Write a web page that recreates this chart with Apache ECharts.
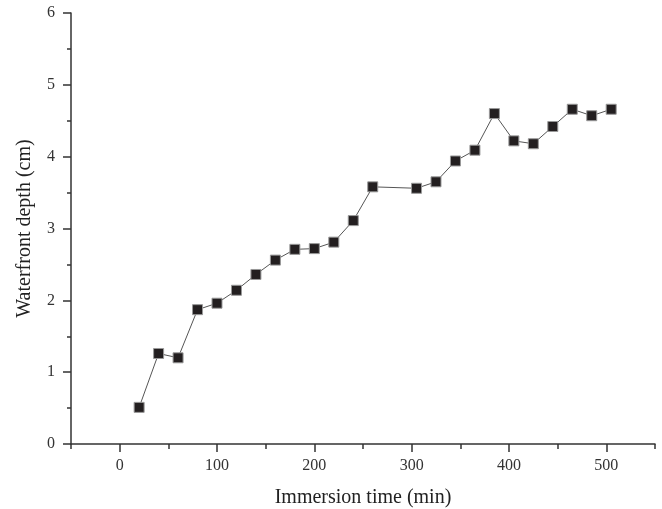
<!DOCTYPE html>
<html>
<head>
<meta charset="utf-8">
<script src="https://cdn.jsdelivr.net/npm/echarts@6/dist/echarts.min.js"></script>
<style>
    html, body { margin: 0; padding: 0; background: #fff; }
    #chart { width: 662px; height: 509px; }
</style>
</head>
<body>
<div id="chart"></div>
<script>
    // immersion time (min) and waterfront depth (cm)
    let times = [20, 40, 60, 80, 100, 120, 140, 160, 180, 200, 220, 240, 260,
        305, 325, 345, 365, 385, 405, 425, 445, 465, 485, 505];
    let depths = [0.51, 1.26, 1.20, 1.87, 1.96, 2.14, 2.36, 2.56, 2.71, 2.72, 2.81, 3.11, 3.58,
        3.56, 3.65, 3.94, 4.09, 4.60, 4.22, 4.18, 4.42, 4.66, 4.57, 4.66];
    let xMajor = [0, 100, 200, 300, 400, 500];
    let xMinor = [-50, 50, 150, 250, 350, 450, 550];

    let fontFamily = '"Liberation Serif", "Times New Roman", serif';
    let textColor = '#333';
    let lineColor = '#333';

    let chartDom = document.getElementById('chart');
    let myChart = echarts.init(chartDom);

    let points = times.map((t, i) => [t, depths[i]]);

    let option = {
        animation: false,
        grid: { left: 71, right: 7, top: 13, bottom: 65, containLabel: false, outerBoundsMode: 'none' },
        xAxis: [
            {
                type: 'value',
                min: -50,
                max: 550,
                position: 'bottom',
                name: 'Immersion time (min)',
                nameLocation: 'middle',
                nameGap: 44,
                nameTextStyle: { fontFamily: fontFamily, fontSize: 20, color: '#222' },
                splitLine: { show: false },
                axisLine: { onZero: false, lineStyle: { color: lineColor, width: 1.5 } },
                axisTick: { customValues: xMajor, inside: false, length: 8, lineStyle: { color: lineColor, width: 1.5 } },
                axisLabel: { customValues: xMajor, margin: 14, fontFamily: fontFamily, fontSize: 16, color: textColor }
            },
            {
                type: 'value',
                min: -50,
                max: 550,
                position: 'bottom',
                offset: 0,
                splitLine: { show: false },
                axisLine: { show: false, onZero: false },
                axisTick: { customValues: xMinor, inside: false, length: 5, lineStyle: { color: lineColor, width: 1.5 } },
                axisLabel: { show: false }
            }
        ],
        yAxis: {
            type: 'value',
            min: 0,
            max: 6,
            interval: 1,
            name: 'Waterfront depth (cm)',
            nameLocation: 'middle',
            nameGap: 36,
            nameTextStyle: { fontFamily: fontFamily, fontSize: 20, color: '#222' },
            splitLine: { show: false },
            axisLine: { show: true, onZero: false, lineStyle: { color: lineColor, width: 1.5 } },
            axisTick: { show: true, inside: false, length: 8, lineStyle: { color: lineColor, width: 1.5 } },
            minorTick: { show: true, splitNumber: 2, length: 4, lineStyle: { color: lineColor, width: 1.5 } },
            axisLabel: { margin: 16, fontFamily: fontFamily, fontSize: 16, color: textColor }
        },
        series: [
            {
                type: 'line',
                data: points,
                symbol: 'rect',
                symbolSize: 10,
                showAllSymbol: true,
                lineStyle: { color: '#555', width: 1 },
                itemStyle: { color: '#231f20', borderColor: '#999', borderWidth: 1 }
            }
        ]
    };

    myChart.setOption(option);
</script>
</body>
</html>
